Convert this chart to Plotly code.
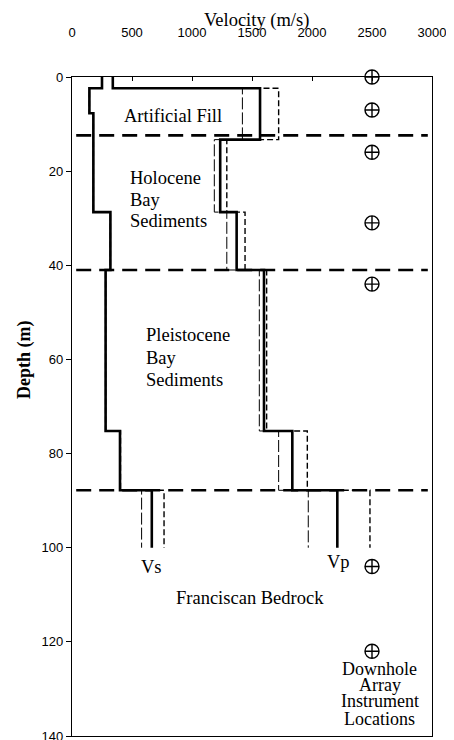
import plotly.graph_objects as go

# ---------------- data ----------------
vs_breaks = [0, 2.4, 7.7, 28.7, 41.0, 75.2, 87.8, 100]
vs_values = [250, 145, 178, 320, 280, 400, 665]
vs_low = [250, 145, 178, 320, 280, 400, 580]
vs_high = [250, 145, 178, 320, 280, 404, 767]

vp_breaks = [0, 2.4, 13.3, 28.7, 41.0, 75.2, 87.8, 100]
vp_values = [340, 1567, 1235, 1372, 1600, 1836, 2211]
vp_low = [340, 1420, 1186, 1290, 1561, 1722, 1969]
vp_high = [340, 1722, 1290, 1442, 1622, 1961, 2483]

boundary_depths = [12.4, 41.0, 87.8]
boundary_span = [35, 2965]

instrument_x = 2500
instrument_depths = [0, 7, 16, 31, 44, 104, 122]

x_ticks = [0, 500, 1000, 1500, 2000, 2500, 3000]
y_ticks = [0, 20, 40, 60, 80, 100, 120, 140]

# ---------------- layout constants ----------------
OFF = 8  # browser body margin
W, H = 454 - OFF, 740 - OFF
ML, MR, MT, MB = 72 - OFF, 22, 77 - OFF, 4
SERIF = "Liberation Serif, Times New Roman, serif"
SANS = "Liberation Sans, Arial, sans-serif"


def steps(breaks, vals):
    xs, ys = [], []
    for i, v in enumerate(vals):
        xs += [v, v]
        ys += [breaks[i], breaks[i + 1]]
    return xs, ys


def px_to_paper(px, py):
    # px, py are page pixel positions
    px -= OFF
    py -= OFF
    return (px - ML) / (W - ML - MR), (H - MB - py) / (H - MT - MB)


fig = go.Figure()

# layer boundaries
for d in boundary_depths:
    fig.add_trace(go.Scatter(x=boundary_span, y=[d, d], mode="lines",
                             line=dict(color="black", width=2.6, dash="15px,8px"),
                             hoverinfo="skip", showlegend=False))

# bounds (lower thin long dash, upper dashed)
for vals, brk, dash, wd in [(vs_low, vs_breaks, "12px,3px", 1.0),
                            (vs_high, vs_breaks, "6px,3px", 1.4),
                            (vp_low, vp_breaks, "12px,3px", 1.0),
                            (vp_high, vp_breaks, "6px,3px", 1.4)]:
    xs, ys = steps(brk, vals)
    fig.add_trace(go.Scatter(x=xs, y=ys, mode="lines",
                             line=dict(color="black", width=wd, dash=dash),
                             hoverinfo="skip", showlegend=False))

# main profiles
for vals, brk in [(vs_values, vs_breaks), (vp_values, vp_breaks)]:
    xs, ys = steps(brk, vals)
    fig.add_trace(go.Scatter(x=xs, y=ys, mode="lines",
                             line=dict(color="black", width=2.6),
                             hoverinfo="skip", showlegend=False))

# instrument locations
fig.add_trace(go.Scatter(x=[instrument_x] * len(instrument_depths), y=instrument_depths,
                         mode="markers", cliponaxis=False,
                         marker=dict(symbol="circle-cross-open", size=14, color="black",
                                     line=dict(width=1.4, color="black")),
                         hoverinfo="skip", showlegend=False))

ann_font = dict(family=SERIF, size=18.5, color="black")
annotations = [
    dict(x=842, y=8.2, text="Artificial Fill", xanchor="center"),
    dict(x=464, y=21.5, text="Holocene", xanchor="left"),
    dict(x=464, y=26.2, text="Bay", xanchor="left"),
    dict(x=464, y=30.6, text="Sediments", xanchor="left"),
    dict(x=600, y=54.9, text="Pleistocene", xanchor="left"),
    dict(x=600, y=59.8, text="Bay", xanchor="left"),
    dict(x=600, y=64.3, text="Sediments", xanchor="left"),
    dict(x=664, y=104, text="Vs", xanchor="center"),
    dict(x=2217, y=103, text="Vp", xanchor="center"),
    dict(x=1481, y=110.7, text="Franciscan Bedrock", xanchor="center"),
]
for a in annotations:
    fig.add_annotation(xref="x", yref="y", yanchor="middle", showarrow=False,
                       font=ann_font, **a)

downhole_lines = ["Downhole", "Array", "Instrument", "Locations"]
downhole_depths = [125.8, 129.1, 132.6, 136.3]
for t, d in zip(downhole_lines, downhole_depths):
    fig.add_annotation(xref="x", yref="y", x=2564, y=d, text=t, xanchor="center",
                       yanchor="middle", showarrow=False,
                       font=dict(family=SERIF, size=18, color="black"))

tx, ty = px_to_paper(256, 20)
fig.add_annotation(xref="paper", yref="paper", x=tx, y=ty, text="Velocity (m/s)",
                   showarrow=False, xanchor="center", yanchor="middle",
                   font=dict(family=SERIF, size=18.5, color="black"))
dx, dy = px_to_paper(24, 360)
fig.add_annotation(xref="paper", yref="paper", x=dx, y=dy, text="<b>Depth (m)</b>",
                   showarrow=False, xanchor="center", yanchor="middle", textangle=-90,
                   font=dict(family=SERIF, size=18, color="black"))

fig.update_layout(
    width=W, height=H,
    margin=dict(l=ML, r=MR, t=MT, b=MB, pad=0, autoexpand=False),
    paper_bgcolor="white", plot_bgcolor="white",
    showlegend=False,
    xaxis=dict(range=[0, 3000], side="top", tickvals=x_ticks,
               ticks="inside", ticklen=4, tickwidth=1, tickcolor="black",
               showline=True, linecolor="black", linewidth=1.2, mirror=True,
               showgrid=False, zeroline=False, ticklabelstandoff=34,
               ticklabeloverflow="allow", automargin=False,
               tickfont=dict(family=SANS, size=13, color="black")),
    yaxis=dict(range=[140, 0], tickvals=y_ticks,
               ticks="outside", ticklen=5, tickwidth=1, tickcolor="black",
               showline=True, linecolor="black", linewidth=1.2, mirror=True,
               showgrid=False, zeroline=False, ticklabeloverflow="allow",
               automargin=False,
               tickfont=dict(family=SANS, size=13, color="black")),
)

fig.write_html("out.html")
